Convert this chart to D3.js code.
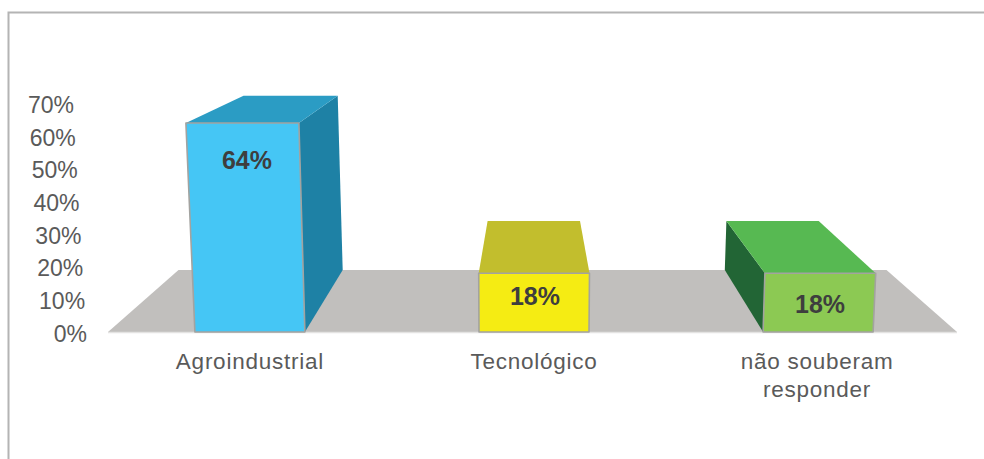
<!DOCTYPE html>
<html>
<head>
<meta charset="utf-8">
<script src="https://cdn.jsdelivr.net/npm/d3@7"></script>
<style>
html,body{margin:0;padding:0;background:#fff;}
svg{display:block;}
text{font-family:"Liberation Sans",Arial,sans-serif;}
</style>
</head>
<body>
<svg id="chart" width="984" height="459"></svg>
<script>
// Chart data
const categories = ["Agroindustrial", "Tecnológico", "não souberam|responder"];
const values = [64, 18, 18];
const valueLabels = ["64%", "18%", "18%"];
const axisTicks = [0, 10, 20, 30, 40, 50, 60, 70];

// Face colours per bar
const frontColors = ["#45C6F5", "#F5EC13", "#8CC953"];
const topColors = ["#2B9CC4", "#C2BE2D", "#57B952"];
const sideColors = ["#1E81A5", "#C2BE2D", "#226535"];

// Layout of the 3D scene
const W = 984, H = 459;
const baseY = 332;
const vanish = {x: 532.5, y: -41};   // vanishing point of the depth lines
const depthRatio = 0.834;            // size of the back plane relative to the front
const leanCenter = 526, leanRate = 0.00013;
const floorFront = [108, 957];
const labelDrop = [38, 24, 32];
const labelShift = [-3, 1, 2];

const svg = d3.select("#chart");

const x = d3.scaleBand().domain(categories).range([108, 960])
  .paddingInner(0.613).paddingOuter(0.306);
const y = d3.scaleLinear().domain([0, 70]).range([baseY, baseY - 228.6]);

// Front-plane point: verticals converge slightly towards the floor
const front = (px, v) => {
  const py = y(v);
  return [px + (baseY - py) * (px - leanCenter) * leanRate, py];
};
// Same point pushed to the back plane
const back = ([px, py]) => [
  vanish.x + (px - vanish.x) * depthRatio,
  vanish.y + (py - vanish.y) * depthRatio
];
const poly = pts => "M" + pts.map(p => p[0].toFixed(1) + "," + p[1].toFixed(1)).join("L") + "Z";

// Outer frame: top and left rules only
svg.append("path")
  .attr("d", `M8.5,459V12.5H${W}`)
  .attr("fill", "none").attr("stroke", "#B4B4B4").attr("stroke-width", 2);

// Floor
const fl = [floorFront[0], baseY], fr = [floorFront[1], baseY];
svg.append("path").attr("d", poly([fl, fr, back(fr), back(fl)])).attr("fill", "#C1BFBD");
svg.append("line").attr("x1", fl[0]).attr("x2", fr[0]).attr("y1", baseY + 0.5).attr("y2", baseY + 0.5)
  .attr("stroke", "#E4E3E2").attr("stroke-width", 1.5);

// Bars
const bars = svg.append("g").selectAll("g")
  .data(categories.map((c, i) => ({c, i, v: values[i]})))
  .join("g");

bars.each(function(d) {
  const g = d3.select(this);
  const x0 = x(d.c), x1 = x0 + x.bandwidth();
  const bl = front(x0, 0), br = front(x1, 0), tl = front(x0, d.v), tr = front(x1, d.v);

  // Side face on whichever side looks towards the vanishing point
  const isLeftOfCenter = x1 < vanish.x - 60, isRightOfCenter = x0 > vanish.x + 60;
  if (isLeftOfCenter) {
    g.append("path").attr("d", poly([br, tr, back(tr), back(br)])).attr("fill", sideColors[d.i]);
  }
  if (isRightOfCenter) {
    g.append("path").attr("d", poly([bl, tl, back(tl), back(bl)])).attr("fill", sideColors[d.i]);
  }
  // Top face
  g.append("path").attr("d", poly([tl, tr, back(tr), back(tl)])).attr("fill", topColors[d.i]);
  // Front face
  g.append("path").attr("d", poly([bl, br, tr, tl])).attr("fill", frontColors[d.i])
    .attr("stroke", "#A3A3A0").attr("stroke-width", 1.6).attr("stroke-linejoin", "round");

  // Value label
  g.append("text")
    .attr("x", (x0 + x1) / 2 + labelShift[d.i])
    .attr("y", tl[1] + labelDrop[d.i] + 8)
    .attr("text-anchor", "middle")
    .attr("font-size", 25).attr("font-weight", "bold").attr("fill", "#3E3E3E")
    .text(valueLabels[d.i]);
});

// Value axis: labels follow the same lean as the front plane
const axis = d3.axisLeft(y).tickValues(axisTicks).tickFormat(d => d + "%").tickSize(0);
const axisG = svg.append("g").call(axis);
axisG.select(".domain").remove();
axisG.selectAll(".tick text")
  .attr("x", d => front(87, d)[0])
  .attr("dy", "0.4em")
  .attr("font-size", 23)
  .attr("font-family", '"Liberation Sans",Arial,sans-serif')
  .attr("fill", "#5A5A5A")
  .attr("text-anchor", "end");

// Category labels, split on the line break marker
svg.append("g").selectAll("text")
  .data(categories)
  .join("text")
  .attr("text-anchor", "middle")
  .attr("font-size", 22.5).attr("fill", "#5A5A5A")
  .attr("letter-spacing", "0.75")
  .each(function(c) {
    const t = d3.select(this);
    c.split("|").forEach((line, i) => {
      t.append("tspan")
        .attr("x", x(c) + x.bandwidth() / 2 - (c.includes("|") ? 1 : 0))
        .attr("y", 369 + i * 28)
        .text(line);
    });
  });
</script>
</body>
</html>
